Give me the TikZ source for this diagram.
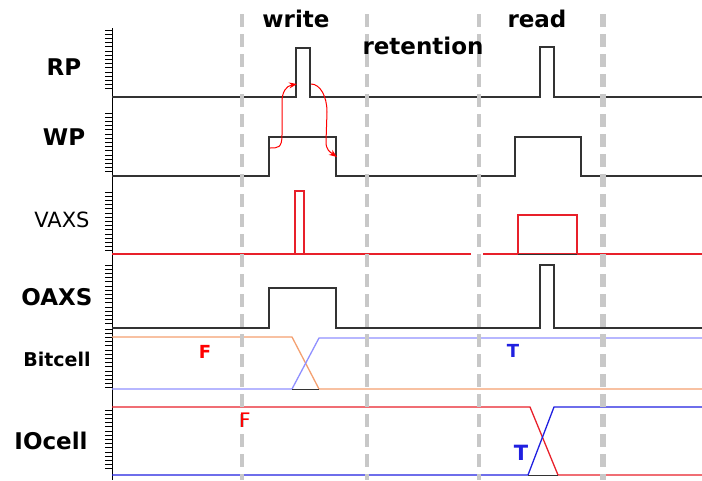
\documentclass[tikz,border=0pt]{standalone}
\usepackage{fontspec}
\setsansfont{DejaVu Sans}
\usetikzlibrary{arrows.meta}
\definecolor{sigc}{HTML}{333333}
\definecolor{guidec}{HTML}{C8C8C8}
\definecolor{bitF}{HTML}{F4A070}
\definecolor{bitT}{HTML}{9090FF}
\definecolor{ioF}{HTML}{E8202A}
\definecolor{ioT}{HTML}{2020E0}

\begin{document}
\begin{tikzpicture}[x=1pt, y=-1pt,
  sig/.style={draw=sigc, line width=1.3pt},
  redsig/.style={draw=ioF, line width=1.4pt},
  tick/.style={draw=black, line width=1pt},
  guide/.style={draw=guidec, dash pattern=on 13pt off 7pt},
  phase/.style={font=\sffamily\bfseries\fontsize{23}{25}\selectfont},
  rowlab/.style={font=\sffamily\bfseries\fontsize{23}{26}\selectfont},
  state/.style={font=\sffamily\bfseries\fontsize{18}{20}\selectfont},
  hand/.style={draw=red, line width=1pt, -{Stealth[length=8pt,width=6pt]}}]
\useasboundingbox (0,0) rectangle (702,480);

% left axis with minor ticks
\draw[tick] (112,28) -- (112,480);
\foreach \a in {30,113,192,265,329,410}
  \foreach \k in {0,...,14}
    \draw[tick] (105,\a+4.2*\k) -- (112,\a+4.2*\k);

% RP
\draw[sig] (112,97) -- (296,97) -- (296,48) -- (310,48) -- (310,97)
  -- (540,97) -- (540,47) -- (554,47) -- (554,97) -- (702,97);
% WP
\draw[sig] (112,176) -- (269,176) -- (269,137) -- (336,137) -- (336,176)
  -- (515,176) -- (515,137) -- (581,137) -- (581,176) -- (702,176);
% VAXS
\draw[redsig] (112,254) -- (471,254);
\draw[redsig] (483,254) -- (702,254);
\draw[redsig] (295,254) -- (295,191) -- (304,191) -- (304,254);
\draw[redsig] (518,254) -- (518,215) -- (577,215) -- (577,254);
\draw[sigc, line width=1pt] (518,254) -- (577,254);
% OAXS
\draw[sig] (112,328) -- (269,328) -- (269,288) -- (336,288) -- (336,328)
  -- (540,328) -- (540,265) -- (554,265) -- (554,328) -- (702,328);
% Bitcell
\draw[bitF, line width=1.3pt] (112,337) -- (292,337) -- (319,389) -- (702,389);
\draw[bitT, line width=1.3pt] (112,389) -- (292,389) -- (319,338) -- (702,338);
\draw[sigc, line width=1pt] (292,389) -- (319,389);
% IOcell
\draw[ioF, line width=1.3pt] (112,407) -- (530,407) -- (558,475) -- (702,475);
\draw[ioT, line width=1.3pt] (112,475) -- (528,475) -- (554,407) -- (702,407);
\draw[sigc, line width=1pt] (528,475) -- (558,475);

% hand-drawn arrows
\draw[hand] (270,148) .. controls (278,148) and (282,148) .. (282,135)
  -- (282,102) .. controls (282,92) and (286,86) .. (297,84);
\draw[hand] (311,84) .. controls (320,84) and (327,96) .. (327,112)
  -- (326,142) .. controls (326,150) and (330,152) .. (337,157);

% phase boundaries
\foreach \x/\w in {242/4.5,367/3.5,479/3.5,603/6}
  \draw[guide, line width=\w pt] (\x,14) -- (\x,480);

% phase names
\node[phase] (write) at (296,19) {write};
\node[phase] (retention) at (423,46) {retention};
\node[phase] (read) at (537,19) {read};

% row names
\node[rowlab] (rp) at (64,67) {RP};
\node[rowlab] (wp) at (64,137) {WP};
\node[font=\sffamily\fontsize{21}{24}\selectfont] (vaxs) at (62,220) {VAXS};
\node[rowlab] (oaxs) at (57,297) {OAXS};
\node[rowlab, font=\sffamily\bfseries\fontsize{19}{22}\selectfont] (bitcell) at (57,359) {Bitcell};
\node[rowlab] (iocell) at (51,441) {IOcell};

% stored values
\node[state, text=red] (bitf) at (205,352) {F};
\node[state, text=ioT] (bitt) at (513,351) {T};
\node[state, text=red, font=\sffamily\fontsize{20}{22}\selectfont] (iof) at (245,420) {F};
\node[state, text=ioT, font=\sffamily\bfseries\fontsize{21}{23}\selectfont] (iot) at (521,453) {T};
\end{tikzpicture}
\end{document}
